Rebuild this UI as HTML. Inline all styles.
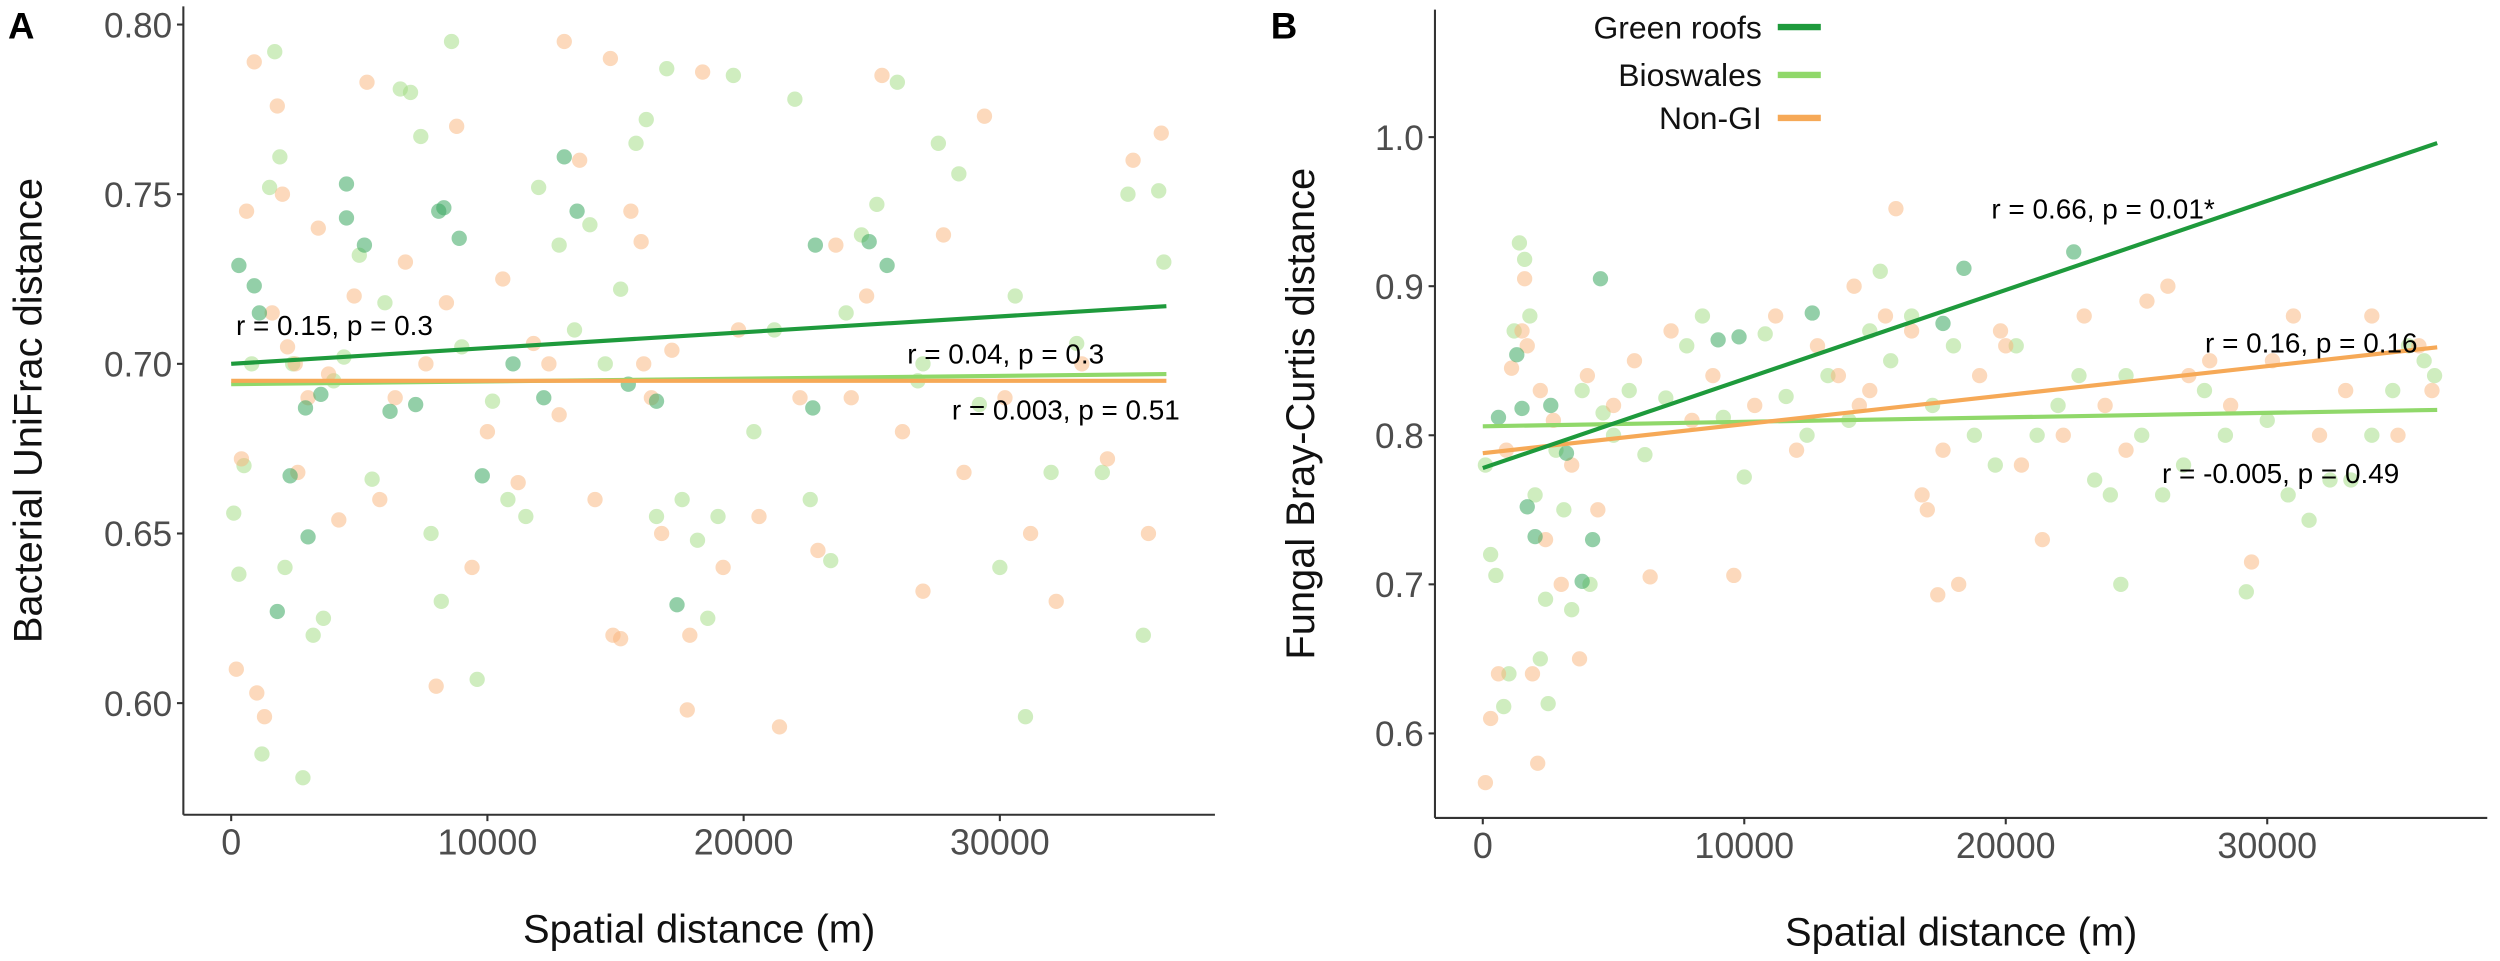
<!DOCTYPE html>
<html><head><meta charset="utf-8"><style>
html,body{margin:0;padding:0;background:#fff;}
svg{display:block;font-family:"Liberation Sans",sans-serif;}
</style></head><body>
<svg id="fig" width="2500" height="961" viewBox="0 0 2500 961">
<g transform="scale(1.5944)">
<g id="panelA"></g>
<g id="panelB"></g>
</g>
</svg>
<script>
// ---- Panel A data (x in thousands of metres) ----
const aGreenX=[0.3,0.9,1.1,2.3,2.9,3.5,4.5,4.5,6.2,5.2,7.2,8.1,8.3,9.8,11,13,13.5,15.5,16.6,17.4,22.8,22.7,24.9,25.6,1.8,8.9,3.0,12.2];
const aGreenY=[0.729,0.723,0.715,0.667,0.687,0.691,0.753,0.743,0.686,0.735,0.688,0.745,0.746,0.667,0.700,0.761,0.745,0.694,0.689,0.629,0.735,0.687,0.736,0.729,0.627,0.737,0.649,0.690];
const aBioX=[0.1,0.3,0.5,0.8,1.2,1.5,1.7,1.9,2.1,2.4,2.8,3.2,3.6,4.0,4.4,5.0,5.5,6.0,6.6,7.0,7.4,7.8,8.2,8.6,9.0,9.6,10.2,10.8,11.5,12.0,12.8,13.4,14.0,14.6,15.2,15.8,16.2,16.6,17.0,17.6,18.2,19.0,19.6,20.4,21.2,22.0,22.6,23.4,24.0,24.6,25.2,26.0,26.8,27.6,28.4,29.2,30.0,31.0,32.0,33.0,34.0,35.0,35.6,36.2,36.4,30.6,27.0,18.6];
const aBioY=[0.656,0.638,0.670,0.700,0.585,0.752,0.792,0.761,0.640,0.700,0.578,0.620,0.625,0.695,0.702,0.732,0.666,0.718,0.781,0.780,0.767,0.650,0.630,0.795,0.705,0.607,0.689,0.660,0.655,0.752,0.735,0.710,0.741,0.700,0.722,0.765,0.772,0.655,0.787,0.660,0.648,0.655,0.785,0.680,0.710,0.778,0.660,0.642,0.715,0.738,0.747,0.783,0.695,0.765,0.756,0.688,0.640,0.596,0.668,0.706,0.668,0.750,0.620,0.751,0.730,0.720,0.700,0.625];
const aNonX=[0.2,0.4,0.6,0.9,1.3,1.6,1.8,2.0,2.2,2.6,3.0,3.4,3.8,4.2,4.8,5.3,5.8,6.4,6.8,7.6,8.0,8.4,8.8,9.4,10.0,10.6,11.2,11.8,12.4,13.0,13.6,14.2,14.8,15.2,15.6,16.0,16.4,16.8,17.2,17.8,18.4,19.2,19.8,20.6,21.4,22.2,22.9,23.6,24.2,24.8,25.4,26.2,27.0,27.8,28.6,29.4,30.2,31.2,32.2,33.2,34.2,35.2,35.8,36.3,1.0,2.5,12.8,14.9,16.1,17.9];
const aNonY=[0.610,0.672,0.745,0.789,0.596,0.715,0.776,0.750,0.705,0.668,0.690,0.740,0.697,0.654,0.720,0.783,0.660,0.690,0.730,0.700,0.605,0.718,0.770,0.640,0.680,0.725,0.665,0.706,0.700,0.795,0.760,0.660,0.790,0.619,0.745,0.736,0.690,0.650,0.704,0.598,0.786,0.640,0.710,0.655,0.593,0.690,0.645,0.735,0.690,0.720,0.785,0.680,0.633,0.738,0.668,0.773,0.690,0.650,0.630,0.700,0.672,0.760,0.650,0.768,0.603,0.700,0.685,0.620,0.700,0.620];
const aLineGreen=[0.700,0.717];
const aLineBio=[0.694,0.697];
const aLineNon=[0.695,0.695];
const aTicksY=[0.60,0.65,0.70,0.75,0.80];
const aTickLabelsY=["0.60","0.65","0.70","0.75","0.80"];
const ticksX=[0,10000,20000,30000];
const tickLabelsX=["0","10000","20000","30000"];

// ---- Panel B data ----
const bGreenX=[0.6,1.3,1.7,2.0,3.2,3.8,4.2,4.5,9.0,9.8,12.6,17.6,18.4,22.6,1.5,2.6];
const bGreenY=[0.812,0.854,0.752,0.732,0.788,0.702,0.730,0.905,0.864,0.866,0.882,0.875,0.912,0.923,0.818,0.820];
const bBioX=[0.1,0.3,0.5,0.8,1.0,1.4,1.6,1.8,2.0,2.2,2.5,2.8,3.1,3.4,3.8,4.1,4.6,5.0,5.6,6.2,7.0,7.8,8.4,9.2,10.0,10.8,11.6,12.4,13.2,14.0,14.8,15.6,16.4,17.2,18.0,18.8,19.6,20.4,21.2,22.0,22.8,23.4,24.0,24.6,25.2,26.0,26.8,27.6,28.4,29.2,30.0,30.8,31.6,32.4,33.2,34.0,34.8,35.4,36.0,36.4,1.2,2.4,15.2,24.4];
const bBioY=[0.780,0.720,0.706,0.618,0.640,0.929,0.918,0.880,0.760,0.650,0.620,0.790,0.750,0.683,0.830,0.700,0.815,0.800,0.830,0.787,0.825,0.860,0.880,0.812,0.772,0.868,0.826,0.800,0.840,0.810,0.870,0.850,0.880,0.820,0.860,0.800,0.780,0.860,0.800,0.820,0.840,0.770,0.760,0.840,0.800,0.760,0.780,0.830,0.800,0.695,0.810,0.760,0.743,0.770,0.770,0.800,0.830,0.860,0.850,0.840,0.870,0.690,0.910,0.700];
const bNonX=[0.1,0.3,0.6,0.9,1.1,1.5,1.7,1.9,2.1,2.4,2.7,3.0,3.4,3.7,4.0,4.4,5.0,5.8,6.4,7.2,8.0,8.8,9.6,10.4,11.2,12.0,12.8,13.6,14.2,14.8,15.4,15.8,16.4,17.0,17.6,18.2,19.0,19.8,20.6,21.4,22.2,23.0,23.8,24.6,25.4,26.2,27.0,27.8,28.6,29.4,30.2,31.0,32.0,33.0,34.0,35.0,35.8,36.3,1.6,2.2,14.4,16.8,17.4,20.0];
const bNonY=[0.567,0.610,0.640,0.790,0.845,0.870,0.860,0.640,0.580,0.730,0.810,0.700,0.780,0.650,0.840,0.750,0.820,0.850,0.705,0.870,0.810,0.840,0.706,0.820,0.880,0.790,0.860,0.840,0.900,0.830,0.880,0.952,0.870,0.750,0.790,0.700,0.840,0.870,0.780,0.730,0.800,0.880,0.820,0.790,0.890,0.900,0.840,0.850,0.820,0.715,0.850,0.880,0.800,0.830,0.880,0.800,0.860,0.830,0.905,0.830,0.820,0.760,0.693,0.860];
const bLineGreen=[0.778,0.996];
const bLineBio=[0.806,0.817];
const bLineNon=[0.788,0.859];
const bTicksY=[0.6,0.7,0.8,0.9,1.0];
const bTickLabelsY=["0.6","0.7","0.8","0.9","1.0"];
const xMaxLine=36500;

const NS="http://www.w3.org/2000/svg";
function mk(parent,tag,attrs,text){const e=document.createElementNS(NS,tag);for(const k in attrs)e.setAttribute(k,attrs[k]);if(text!==undefined)e.textContent=text;parent.appendChild(e);return e;}

function drawPanel(g,cfg){
  const sx=v=>cfg.x0+v*cfg.kx;
  const sy=v=>cfg.yRef+(cfg.vRef-v)*cfg.ky;
  let ax=mk(g,'line',{x1:cfg.axX,y1:cfg.top,x2:cfg.axX,y2:cfg.bottom,stroke:'#333','stroke-width':1.3});
  
  
  let bx=mk(g,'line',{x1:cfg.axX,y1:cfg.bottom,x2:cfg.right,y2:cfg.bottom,stroke:'#333','stroke-width':1.3});
  
  
  cfg.ticksY.forEach((t,i)=>{
    const y=sy(t);
    const tk=mk(g,'line',{x1:cfg.axX-4,y1:y,x2:cfg.axX,y2:y,stroke:'#333','stroke-width':1.3});
    
    
    const tl=mk(g,'text',{x:cfg.axX-7,y:y+8,'text-anchor':'end','font-size':22,fill:'#4d4d4d'},cfg.labelsY[i]);
    
    
  });
  ticksX.forEach((t,i)=>{
    const x=sx(t/1000);
    const tk=mk(g,'line',{x1:x,y1:cfg.bottom,x2:x,y2:cfg.bottom+4,stroke:'#333','stroke-width':1.3});
    
    
    const tl=mk(g,'text',{x:x,y:cfg.bottom+25,'text-anchor':'middle','font-size':22.5,fill:'#4d4d4d'},tickLabelsX[i]);
    
    
  });
  const xt=mk(g,'text',{x:(cfg.axX+cfg.right)/2,y:cfg.bottom+80,'text-anchor':'middle','font-size':25,fill:'#111'},'Spatial distance (m)');
  
  
  const cy=(cfg.top+cfg.bottom)/2;
  const yt=mk(g,'text',{x:cfg.yTitleX,y:cy,'text-anchor':'middle','font-size':25,fill:'#111',transform:`rotate(-90 ${cfg.yTitleX} ${cy})`},cfg.yTitle);
  
  
  const pl=mk(g,'text',{x:cfg.labelX,y:24,'font-size':23,'font-weight':'bold',fill:'#000'},cfg.letter);
  
  
  const groups=[[cfg.bioX,cfg.bioY,'#9fdc7f',0.5,'point-bioswale'],[cfg.nonX,cfg.nonY,'#f9b37a',0.5,'point-non-gi'],[cfg.gX,cfg.gY,'#3aa860',0.55,'point-green-roof']];
  groups.forEach(([xs,ys,c,o,n])=>{
    xs.forEach((xv,i)=>{
      const p=mk(g,'circle',{cx:sx(xv),cy:sy(ys[i]),r:4.8,fill:c,'fill-opacity':o});
      
      
    });
  });
  const lines=[[cfg.lBio,'#90d86a','line-bioswale'],[cfg.lNon,'#f6a957','line-non-gi'],[cfg.lG,'#1e9a3c','line-green-roof']];
  lines.forEach(([v,c,n])=>{
    const l=mk(g,'line',{x1:sx(0),y1:sy(v[0]),x2:sx(xMaxLine/1000),y2:sy(v[1]),stroke:c,'stroke-width':2.6});
    
    
  });
  cfg.notes.forEach(([tx,x,y])=>{
    const t=mk(g,'text',{x:x,y:y,'font-size':17.5,fill:'#000'},tx);
    
    
  });
}

drawPanel(document.getElementById('panelA'),{
  x0:145,kx:16.07,yRef:15.4,vRef:0.80,ky:2128,axX:115,top:4,bottom:511,right:762,
  ticksY:aTicksY,labelsY:aTickLabelsY,yTitle:'Bacterial UniFrac distance',yTitleX:26,labelX:5,letter:'A',
  gX:aGreenX,gY:aGreenY,bioX:aBioX,bioY:aBioY,nonX:aNonX,nonY:aNonY,
  lG:aLineGreen,lBio:aLineBio,lNon:aLineNon,
  notes:[['r =  0.15, p = 0.3',148,210],['r =  0.04, p = 0.3',569,228],['r =  0.003, p = 0.51',597,263]]
});
drawPanel(document.getElementById('panelB'),{
  x0:930,kx:16.4,yRef:86,vRef:1.0,ky:935,axX:900,top:6,bottom:513,right:1560,
  ticksY:bTicksY,labelsY:bTickLabelsY,yTitle:'Fungal Bray-Curtis distance',yTitleX:824,labelX:797,letter:'B',
  gX:bGreenX,gY:bGreenY,bioX:bBioX,bioY:bBioY,nonX:bNonX,nonY:bNonY,
  lG:bLineGreen,lBio:bLineBio,lNon:bLineNon,
  notes:[['r =  0.66, p = 0.01*',1249,137],['r =  0.16, p = 0.16',1383,221],['r = -0.005, p = 0.49',1356,303]]
});
const lg=document.getElementById('panelB');
const legItems=[['Green roofs','#1e9a3c',17],['Bioswales','#90d86a',47],['Non-GI','#f6a957',74]];
legItems.forEach(([t,c,y])=>{
  const tx=mk(lg,'text',{x:1105,y:y+7,'text-anchor':'end','font-size':20,fill:'#111'},t);
  
  
  const ln=mk(lg,'line',{x1:1115,y1:y,x2:1142,y2:y,stroke:c,'stroke-width':4});
  
  
});
</script>
</body></html>
